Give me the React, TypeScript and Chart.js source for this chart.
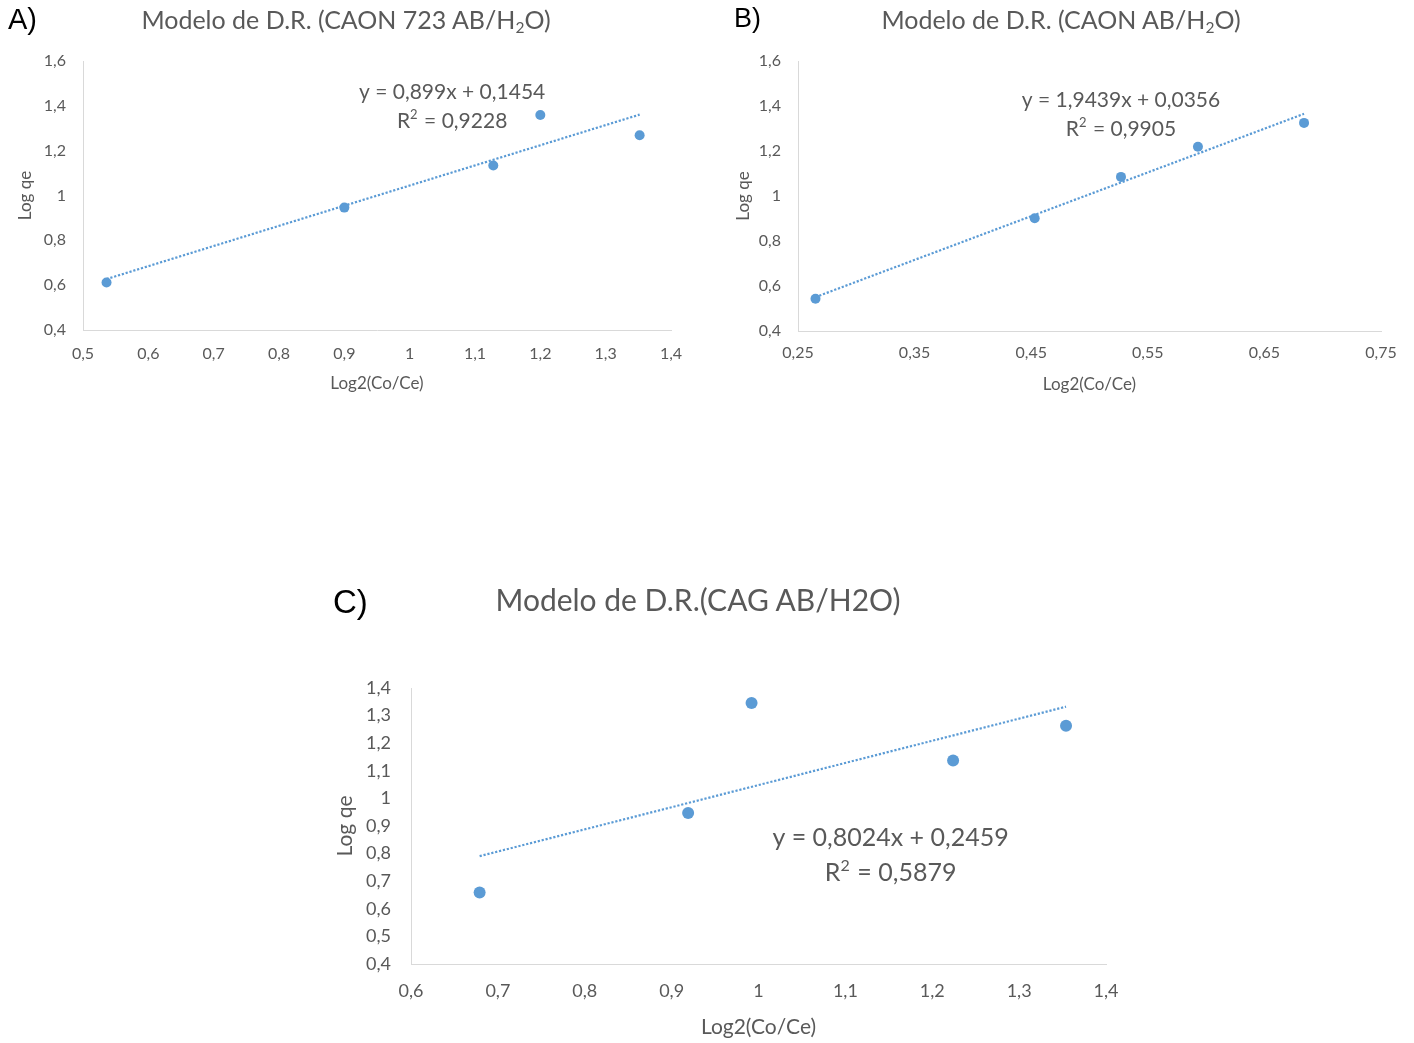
import React, { useEffect, useRef } from "react";
import { Chart, registerables } from "chart.js";
Chart.register(...registerables);

const FONT = "Lato, 'Open Sans', sans-serif";
const GRAY = "#595959";
const AXIS = "#d9d9d9";
const BLUE = "#5b9bd5";

// ---- Panel A: CAON 723 AB/H2O ----
const xA = [0.536, 0.9, 1.128, 1.2, 1.352];
const yA = [0.612, 0.946, 1.134, 1.359, 1.269];
const slopeA = 0.899;
const interceptA = 0.1454;
const eqA = ["y = 0,899x + 0,1454", "R² = 0,9228"];
const xTicksA = [0.5, 0.6, 0.7, 0.8, 0.9, 1.0, 1.1, 1.2, 1.3, 1.4];
const yTicksA = [0.4, 0.6, 0.8, 1.0, 1.2, 1.4, 1.6];

// ---- Panel B: CAON AB/H2O ----
const xB = [0.265, 0.453, 0.527, 0.593, 0.684];
const yB = [0.543, 0.901, 1.085, 1.219, 1.325];
const slopeB = 1.9439;
const interceptB = 0.0356;
const eqB = ["y = 1,9439x + 0,0356", "R² = 0,9905"];
const xTicksB = [0.25, 0.35, 0.45, 0.55, 0.65, 0.75];
const yTicksB = [0.4, 0.6, 0.8, 1.0, 1.2, 1.4, 1.6];

// ---- Panel C: CAG AB/H2O ----
const xC = [0.679, 0.919, 0.992, 1.224, 1.354];
const yC = [0.659, 0.947, 1.346, 1.137, 1.263];
const slopeC = 0.8024;
const interceptC = 0.2459;
const eqC = ["y = 0,8024x + 0,2459", "R² = 0,5879"];
const xTicksC = [0.6, 0.7, 0.8, 0.9, 1.0, 1.1, 1.2, 1.3, 1.4];
const yTicksC = [0.4, 0.5, 0.6, 0.7, 0.8, 0.9, 1.0, 1.1, 1.2, 1.3, 1.4];

const X_TITLE = "Log2(Co/Ce)";
const Y_TITLE = "Log qe";

const fmt = (v: number) => String(Math.round(v * 100) / 100).replace(".", ",");

const trend = (xs: number[], m: number, b: number) => {
  const lo = Math.min(...xs);
  const hi = Math.max(...xs);
  return [
    { x: lo, y: m * lo + b },
    { x: hi, y: m * hi + b },
  ];
};

// draws a line of text centred at (cx, cy); "²" is rendered as a raised small "2"
const drawRich = (ctx: CanvasRenderingContext2D, text: string, cx: number, cy: number, size: number) => {
  const parts = text.split("²");
  const segs: { t: string; sup: boolean }[] = [];
  parts.forEach((p, i) => {
    if (i > 0) segs.push({ t: "2", sup: true });
    if (p) segs.push({ t: p, sup: false });
  });
  const mainFont = `${size}px ${FONT}`;
  const supFont = `${Math.round(size * 0.62)}px ${FONT}`;
  let total = 0;
  const widths = segs.map((s) => {
    ctx.font = s.sup ? supFont : mainFont;
    const w = ctx.measureText(s.t).width + (s.sup ? size * 0.05 : 0);
    total += w;
    return w;
  });
  let x = cx - total / 2;
  ctx.textAlign = "left";
  ctx.textBaseline = "middle";
  segs.forEach((s, i) => {
    ctx.font = s.sup ? supFont : mainFont;
    ctx.fillText(s.t, x, s.sup ? cy - size * 0.3 : cy);
    x += widths[i];
  });
};

const eqPlugin = {
  id: "eqLabel",
  afterDatasetsDraw(chart: any, _args: any, opts: any) {
    const { ctx, scales } = chart;
    const px = scales.x.getPixelForValue(opts.x);
    const py = scales.y.getPixelForValue(opts.y);
    ctx.save();
    ctx.fillStyle = GRAY;
    opts.lines.forEach((l: string, i: number) => drawRich(ctx, l, px, py + i * opts.gap, opts.size));
    ctx.restore();
  },
};

type Spec = {
  left: number; top: number; width: number; height: number;
  padTop: number; padRight: number; yWidth: number; xHeight: number;
  xs: number[]; ys: number[]; slope: number; intercept: number;
  xTicks: number[]; yTicks: number[];
  eq: string[]; eqX: number; eqY: number; eqGap: number; eqSize: number;
  tickSize: number; titleSize: number; yTickPad: number; xTickPad: number;
  yTitlePad: number; xTitlePad: number; radius: number;
};

function Panel({ s }: { s: Spec }) {
  const ref = useRef<HTMLCanvasElement>(null);
  useEffect(() => {
    if (!ref.current) return;
    const chart = new Chart(ref.current, {
      type: "scatter",
      data: {
        datasets: [
          {
            type: "line",
            data: trend(s.xs, s.slope, s.intercept),
            borderColor: BLUE,
            borderWidth: 2.2,
            borderDash: [2.2, 1.8],
            pointRadius: 0,
            fill: false,
          } as any,
          {
            data: s.xs.map((x, i) => ({ x, y: s.ys[i] })),
            backgroundColor: BLUE,
            borderColor: BLUE,
            borderWidth: 0,
            pointRadius: s.radius,
          },
        ],
      },
      plugins: [eqPlugin as any],
      options: {
        animation: false,
        responsive: false,
        devicePixelRatio: 1,
        layout: { padding: { top: s.padTop, right: s.padRight, left: 0, bottom: 0 } },
        plugins: {
          legend: { display: false },
          tooltip: { enabled: false },
          eqLabel: { x: s.eqX, y: s.eqY, gap: s.eqGap, size: s.eqSize, lines: s.eq },
        } as any,
        scales: {
          x: {
            type: "linear",
            min: s.xTicks[0],
            max: s.xTicks[s.xTicks.length - 1],
            grid: { display: false, drawTicks: false },
            border: { display: true, color: AXIS, width: 1 },
            afterBuildTicks: (sc: any) => { sc.ticks = s.xTicks.map((v) => ({ value: v })); },
            afterFit: (sc: any) => { sc.height = s.xHeight; },
            ticks: {
              autoSkip: false, maxRotation: 0, padding: s.xTickPad, color: GRAY,
              font: { family: FONT, size: s.tickSize },
              callback: (v: any) => fmt(Number(v)),
            },
            title: {
              display: true, text: X_TITLE, color: GRAY,
              font: { family: FONT, size: s.titleSize },
              padding: { top: 0, bottom: s.xTitlePad },
            },
          },
          y: {
            type: "linear",
            min: s.yTicks[0],
            max: s.yTicks[s.yTicks.length - 1],
            grid: { display: false, drawTicks: false },
            border: { display: true, color: AXIS, width: 1 },
            afterBuildTicks: (sc: any) => { sc.ticks = s.yTicks.map((v) => ({ value: v })); },
            afterFit: (sc: any) => { sc.width = s.yWidth; },
            ticks: {
              autoSkip: false, padding: s.yTickPad, color: GRAY,
              font: { family: FONT, size: s.tickSize },
              callback: (v: any) => fmt(Number(v)),
            },
            title: {
              display: true, text: Y_TITLE, color: GRAY,
              font: { family: FONT, size: s.titleSize },
              padding: { top: s.yTitlePad, bottom: 0 },
            },
          },
        },
      },
    });
    return () => chart.destroy();
  }, []);
  return (
    <canvas
      ref={ref}
      width={s.width}
      height={s.height}
      style={{ position: "absolute", left: s.left, top: s.top, width: s.width, height: s.height }}
    />
  );
}

const specA: Spec = {
  left: 0, top: 0, width: 700, height: 400,
  padTop: 61, padRight: 29, yWidth: 83, xHeight: 70,
  xs: xA, ys: yA, slope: slopeA, intercept: interceptA, xTicks: xTicksA, yTicks: yTicksA,
  eq: eqA, eqX: 1.065, eqY: 1.46, eqGap: 29, eqSize: 21,
  tickSize: 16, titleSize: 17, yTickPad: 17, xTickPad: 14, yTitlePad: 15, xTitlePad: 6, radius: 5,
};
const specB: Spec = {
  left: 700, top: 0, width: 714, height: 400,
  padTop: 61, padRight: 33, yWidth: 98, xHeight: 69,
  xs: xB, ys: yB, slope: slopeB, intercept: interceptB, xTicks: xTicksB, yTicks: yTicksB,
  eq: eqB, eqX: 0.527, eqY: 1.427, eqGap: 29, eqSize: 21,
  tickSize: 16, titleSize: 17, yTickPad: 17, xTickPad: 12, yTitlePad: 33, xTitlePad: 5, radius: 5,
};
const specC: Spec = {
  left: 300, top: 560, width: 850, height: 483,
  padTop: 128, padRight: 44, yWidth: 111, xHeight: 79,
  xs: xC, ys: yC, slope: slopeC, intercept: interceptC, xTicks: xTicksC, yTicks: yTicksC,
  eq: eqC, eqX: 1.152, eqY: 0.857, eqGap: 35, eqSize: 25,
  tickSize: 18, titleSize: 21, yTickPad: 20, xTickPad: 16, yTitlePad: 33, xTitlePad: 3, radius: 6,
};

const titleStyle = (cx: number, cy: number, size: number): React.CSSProperties => ({
  position: "absolute", left: cx, top: cy, transform: "translate(-50%, -50%)",
  fontFamily: FONT, fontSize: size, color: GRAY, lineHeight: 1, whiteSpace: "nowrap",
});
const tagStyle = (lx: number, cy: number, size: number): React.CSSProperties => ({
  position: "absolute", left: lx, top: cy, transform: "translateY(-50%)",
  fontFamily: "'Liberation Sans', Arial, sans-serif", fontSize: size, color: "#000",
  lineHeight: 1, whiteSpace: "nowrap",
});
const subStyle: React.CSSProperties = { fontSize: "0.62em", verticalAlign: "-0.28em", lineHeight: 0 };

export default function App() {
  return (
    <div style={{ position: "absolute", left: 0, top: 0, width: 1414, height: 1043, background: "#fff", overflow: "hidden" }}>
      <Panel s={specA} />
      <Panel s={specB} />
      <Panel s={specC} />
      <div style={tagStyle(8, 19, 29)}>A)</div>
      <div style={tagStyle(734, 18, 27)}>B)</div>
      <div style={tagStyle(333, 601, 33)}>C)</div>
      <div style={titleStyle(346, 19, 25)}>
        Modelo de D.R. (CAON 723 AB/H<sub style={subStyle}>2</sub>O)
      </div>
      <div style={titleStyle(1061, 19, 25)}>
        Modelo de D.R. (CAON AB/H<sub style={subStyle}>2</sub>O)
      </div>
      <div style={titleStyle(698, 599, 30)}>Modelo de D.R.(CAG AB/H2O)</div>
    </div>
  );
}
